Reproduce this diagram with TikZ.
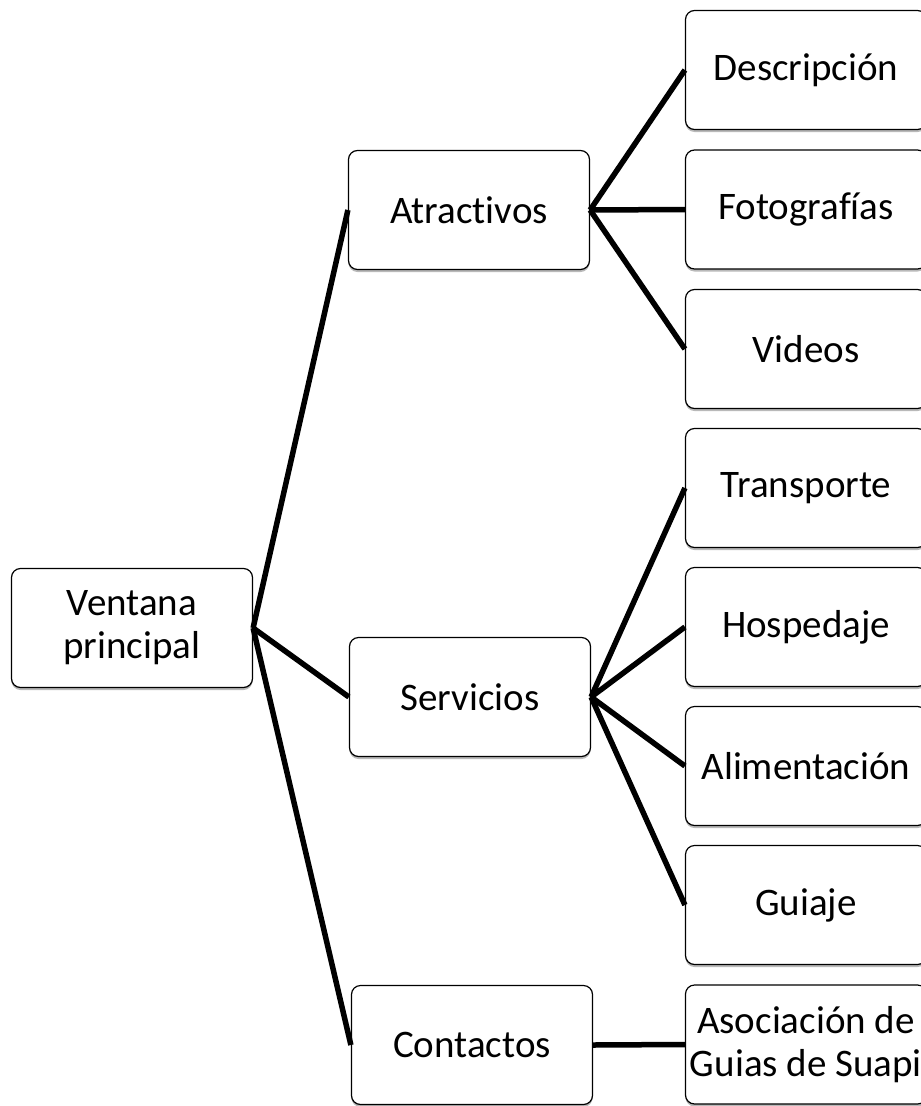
\documentclass[tikz,border=0pt]{standalone}
\usepackage{fontspec}
\setmainfont{Carlito}[Ligatures={NoCommon}]
\usetikzlibrary{shadows}
\tikzset{
  menubox/.style={draw=black, line width=1.2pt, rounded corners=9pt, fill=white,
    minimum width=241pt, minimum height=119pt, align=center,
    font=\fontsize{39}{43}\selectfont,
    drop shadow={shadow xshift=0pt, shadow yshift=-2.5pt, fill=gray!55, opacity=1}},
  enlace/.style={line width=5.5pt}
}
\begin{document}
\begin{tikzpicture}[x=1pt, y=-1pt]
  \useasboundingbox (0,0) rectangle (921,1106);
  \clip (0,0) rectangle (921,1106);
  % ventana principal
  \node[menubox] (ventana) at (132,628) {Ventana\\principal};
  % segundo nivel
  \node[menubox] (atractivos) at (469,210) {Atractivos};
  \node[menubox] (servicios) at (470,697) {Servicios};
  \node[menubox] (contactos) at (472,1045) {Contactos};
  % tercer nivel
  \node[menubox] (descripcion) at (806,70) {Descripción};
  \node[menubox] (fotografias) at (806,209.5) {Fotografías};
  \node[menubox] (videos) at (806,349) {Videos};
  \node[menubox] (transporte) at (806,488) {Transporte};
  \node[menubox] (hospedaje) at (806,627) {Hospedaje};
  \node[menubox] (alimentacion) at (806,766) {Alimentación};
  \node[menubox] (guiaje) at (806,905) {Guiaje};
  \node[menubox] (asociacion) at (806,1044.5) {Asociación de\\Guias de Suapi};
  % enlaces
  \draw[enlace] (ventana.east) -- (atractivos.west);
  \draw[enlace] (ventana.east) -- (servicios.west);
  \draw[enlace] (ventana.east) -- (contactos.west);
  \draw[enlace] (atractivos.east) -- (descripcion.west);
  \draw[enlace] (atractivos.east) -- (fotografias.west);
  \draw[enlace] (atractivos.east) -- (videos.west);
  \draw[enlace] (servicios.east) -- (transporte.west);
  \draw[enlace] (servicios.east) -- (hospedaje.west);
  \draw[enlace] (servicios.east) -- (alimentacion.west);
  \draw[enlace] (servicios.east) -- (guiaje.west);
  \draw[enlace] (contactos.east) -- (asociacion.west);
\end{tikzpicture}
\end{document}
